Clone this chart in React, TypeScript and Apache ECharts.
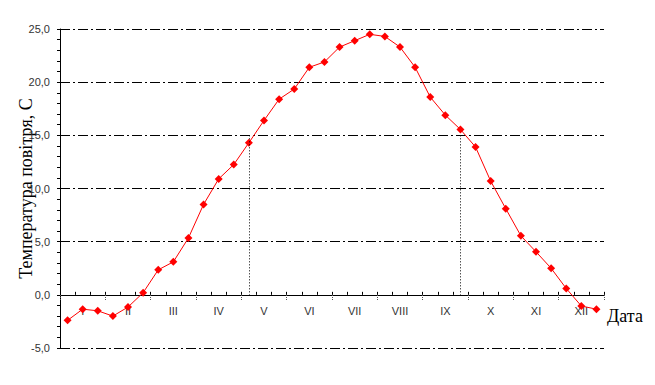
import React, { useEffect, useRef } from "react";
import * as echarts from "echarts";

const months = ["I", "II", "III", "IV", "V", "VI", "VII", "VIII", "IX", "X", "XI", "XII"];
const dekads = months.flatMap((m) => [m + "-1", m + "-2", m + "-3"]);
const temps = [
  -2.4, -1.35, -1.5, -2.0, -1.15, 0.2, 2.35, 3.1, 5.35, 8.5, 10.9, 12.25,
  14.3, 16.4, 18.4, 19.35, 21.4, 21.9, 23.3, 23.9, 24.5, 24.3, 23.3, 21.4,
  18.6, 16.9, 15.55, 13.9, 10.7, 8.1, 5.55, 4.05, 2.5, 0.6, -1.05, -1.35,
];
const summerStart = dekads[12];
const summerEnd = dekads[26];
const threshold = 15;

export default function App() {
  const ref = useRef<HTMLDivElement>(null);
  useEffect(() => {
    if (!ref.current) return;
    const chart = echarts.init(ref.current, undefined, { renderer: "svg" });
    const labelFont = "'Liberation Sans', Arial, sans-serif";
    const serif = "'Liberation Serif', 'Times New Roman', serif";
    chart.setOption({
      animation: false,
      backgroundColor: "#fff",
      grid: { left: 60, right: 51, top: 29, bottom: 37, containLabel: false, outerBoundsMode: "none" },
      xAxis: [
        {
          type: "category",
          data: dekads,
          position: "bottom",
          boundaryGap: true,
          axisLine: { onZero: true, lineStyle: { color: "#000", width: 1 } },
          axisTick: { show: true, interval: 0, inside: true, length: 3, lineStyle: { color: "#000" } },
          axisLabel: { show: false },
          splitLine: { show: false },
          name: "Дата",
          nameLocation: "end",
          nameGap: 3,
          nameMoveOverlap: false,
          nameTextStyle: {
            fontFamily: serif,
            fontSize: 18,
            color: "#000",
            verticalAlign: "top",
            padding: [12, 0, 0, 0],
          },
        },
        {
          type: "category",
          data: months,
          position: "bottom",
          offset: -53,
          boundaryGap: true,
          axisLine: { show: false, onZero: false },
          axisTick: { show: true, interval: 0, length: 6, lineStyle: { color: "#555", type: [1, 1] } },
          axisLabel: { show: true, interval: 0, margin: 10, color: "#333", fontSize: 11, fontFamily: labelFont },
          splitLine: { show: false },
        },
      ],
      yAxis: {
        type: "value",
        min: -5,
        max: 25,
        interval: 5,
        axisLine: { show: true, onZero: false, lineStyle: { color: "#000", width: 1 } },
        axisTick: { show: true, length: 3, lineStyle: { color: "#000" } },
        minorTick: { show: true, splitNumber: 5, length: 3, lineStyle: { color: "#000" } },
        axisLabel: {
          color: "#333",
          fontSize: 11,
          fontFamily: labelFont,
          margin: 10,
          formatter: (v: number) => v.toFixed(1).replace(".", ","),
        },
        splitLine: { show: true, lineStyle: { color: "#000", width: 1, type: [10, 3, 2, 3] } },
        name: "Температура повітря, С",
        nameLocation: "middle",
        nameGap: 25,
        nameMoveOverlap: false,
        nameTextStyle: { fontFamily: serif, fontSize: 18, color: "#000" },
      },
      series: [
        {
          type: "line",
          xAxisIndex: 0,
          yAxisIndex: 0,
          data: temps,
          symbol: "diamond",
          symbolSize: 8,
          lineStyle: { color: "#ff0000", width: 1 },
          itemStyle: { color: "#ff0000" },
          markLine: {
            silent: true,
            symbol: "none",
            label: { show: false },
            lineStyle: { color: "#000", width: 1, type: [1, 2] },
            data: [
              [{ coord: [summerStart, threshold] }, { coord: [summerStart, 0] }],
              [{ coord: [summerEnd, threshold] }, { coord: [summerEnd, 0] }],
            ],
          },
        },
      ],
    });
    return () => chart.dispose();
  }, []);
  return (
    <div
      ref={ref}
      style={{ position: "absolute", left: 0, top: 0, width: 655, height: 385, background: "#fff" }}
    />
  );
}
